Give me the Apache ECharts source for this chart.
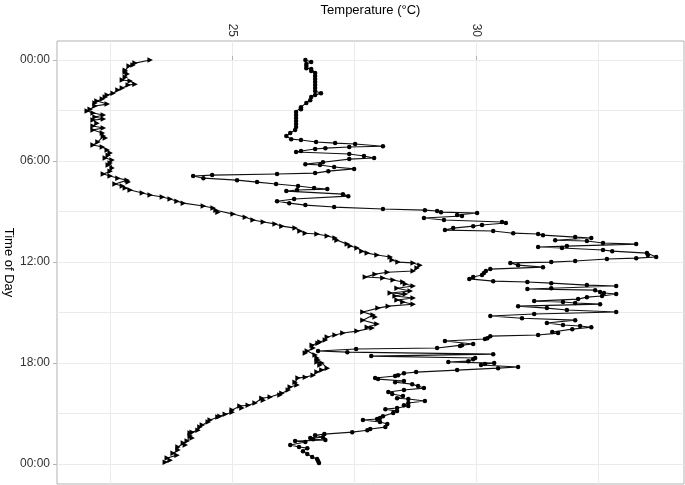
<!DOCTYPE html>
<html>
<head>
<meta charset="utf-8">
<script src="https://cdn.jsdelivr.net/npm/echarts@6/dist/echarts.min.js"></script>
<style>html,body{margin:0;padding:0;background:#fff}#c{width:685px;height:485px}</style>
</head>
<body>
<div id="c"></div>
<script>
// Series with triangle markers: minutes since midnight and temperature (°C)
var triMinutes = [0,11,18,21,36,43,50,61,71,75,86,89,100,107,118,125,132,139,146,153,157,164,175,182,189,196,203,210,214,225,235,242,249,260,271,278,292,303,310,321,331,339,349,356,367,374,385,396,406,413,421,428,435,442,449,456,463,474,481,488,495,503,510,520,527,535,542,549,560,570,577,584,592,599,609,617,620,627,634,642,656,663,670,681,688,695,702,713,720,723,731,741,752,756,763,773,777,784,791,798,805,813,823,830,834,841,848,855,862,870,877,884,898,909,916,927,941,952,955,966,973,980,987,998,1005,1009,1016,1026,1037,1044,1051,1062,1069,1076,1080,1087,1098,1105,1112,1123,1130,1133,1148,1158,1165,1176,1187,1194,1201,1205,1212,1222,1230,1233,1240,1247,1255,1262,1269,1272,1283,1290,1301,1308,1319,1326,1329,1340,1347,1358,1365,1372,1379,1390,1401,1408,1418,1426,1433];
var triTemps = [23.32,23.01,22.97,22.89,22.81,22.81,22.85,22.81,22.75,22.91,23.01,22.87,22.75,22.66,22.56,22.44,22.40,22.34,22.23,22.19,22.44,22.19,22.09,22.03,22.15,22.36,22.19,22.36,22.15,22.23,22.15,22.36,22.15,22.34,22.36,22.40,22.25,22.15,22.34,22.44,22.50,22.46,22.40,22.54,22.50,22.46,22.54,22.50,22.36,22.50,22.66,22.85,22.87,22.60,22.75,22.81,22.91,23.16,23.32,23.57,23.73,23.87,24.00,24.41,24.61,24.67,24.71,25.02,25.27,25.43,25.64,25.88,26.02,26.29,26.39,26.50,26.74,26.95,27.11,27.15,27.36,27.42,27.56,27.66,27.77,27.97,28.24,28.28,28.40,28.71,28.85,28.79,28.71,28.18,27.93,27.73,28.09,28.30,28.50,28.55,28.71,28.38,28.65,28.24,28.55,28.34,28.71,28.38,28.50,28.71,28.20,27.99,27.68,27.89,27.93,27.68,27.97,27.77,27.87,27.56,27.27,27.11,26.95,26.91,26.80,26.76,26.64,26.66,26.54,26.50,26.70,26.74,26.76,26.74,26.84,26.80,26.95,26.84,26.74,26.66,26.50,26.35,26.29,26.33,26.19,26.15,26.02,25.98,25.78,25.61,25.64,25.47,25.33,25.16,25.20,25.00,25.00,24.86,24.75,24.71,24.55,24.51,24.39,24.34,24.30,24.18,24.14,24.14,24.18,24.08,24.00,24.04,23.89,23.89,23.79,23.87,23.67,23.73,23.63];

// Series with dot markers
var dotMinutes = [0,7,14,21,29,32,39,46,57,68,78,89,100,110,118,125,132,143,153,168,175,185,196,207,217,228,239,249,260,271,282,285,292,296,299,307,310,314,317,324,328,335,342,349,353,364,371,374,381,388,396,403,406,410,413,421,428,435,442,449,456,460,463,467,478,485,495,503,510,517,524,531,535,538,542,545,552,556,563,570,577,581,588,592,599,606,609,617,620,624,631,634,642,645,652,656,663,666,670,677,681,688,695,702,706,709,716,720,723,731,738,745,752,759,766,773,780,788,791,795,802,805,813,816,820,827,830,834,841,845,852,859,862,866,870,877,884,891,898,905,912,920,927,937,944,948,952,959,969,973,980,984,991,994,1001,1012,1016,1019,1026,1030,1037,1041,1048,1055,1062,1066,1073,1076,1080,1083,1087,1094,1098,1105,1112,1116,1123,1126,1133,1137,1144,1148,1155,1162,1169,1176,1183,1190,1197,1205,1208,1215,1222,1230,1233,1240,1244,1251,1258,1269,1276,1279,1283,1290,1297,1308,1315,1319,1326,1333,1337,1344,1347,1351,1354,1358,1361,1372,1379,1383,1394,1404,1415,1422,1429,1436];
var dotTemps = [26.50,26.62,26.52,26.52,26.52,26.62,26.62,26.70,26.70,26.70,26.70,26.70,26.70,26.70,26.82,26.70,26.62,26.60,26.52,26.41,26.41,26.31,26.31,26.31,26.31,26.31,26.31,26.29,26.19,26.11,26.21,26.41,26.72,27.11,27.52,28.09,27.40,26.91,26.70,26.41,26.31,27.40,27.70,27.91,27.40,26.86,26.50,26.80,27.09,27.50,26.97,26.70,25.92,24.59,24.20,24.41,25.10,25.51,25.90,26.35,26.68,26.95,26.33,26.11,27.27,27.38,26.27,25.92,26.17,26.50,27.09,28.09,28.95,29.20,29.28,30.02,29.61,29.71,28.93,29.34,30.53,30.61,30.12,29.94,29.53,29.36,30.35,30.76,31.27,31.37,32.03,32.36,31.62,32.27,32.60,33.28,31.86,31.27,31.76,32.60,32.79,33.50,33.52,33.69,33.28,32.68,32.03,31.54,30.70,30.86,31.37,30.29,30.20,30.16,30.12,29.94,29.86,30.35,31.05,31.54,32.27,32.87,31.54,31.05,32.44,32.54,32.62,32.87,32.58,32.27,32.09,31.19,31.78,32.03,32.54,30.86,31.45,31.86,32.87,31.19,30.29,30.94,32.03,31.45,31.78,32.13,32.36,31.97,31.56,31.68,31.27,30.29,30.23,30.18,29.36,29.94,29.71,29.67,29.20,27.54,26.76,27.36,30.35,27.85,29.98,29.94,29.84,29.43,30.37,30.18,30.10,30.86,30.45,29.61,28.77,28.52,28.40,28.34,27.93,27.99,28.52,28.34,28.69,28.81,28.93,28.52,28.20,28.28,28.50,28.38,28.61,28.95,28.61,28.52,28.61,28.38,28.14,28.38,28.30,28.09,28.03,27.97,27.68,28.03,28.18,28.14,27.83,27.77,27.46,26.89,26.70,26.86,26.60,26.66,26.91,26.29,26.50,26.19,26.37,26.54,26.45,26.54,26.64,26.74,26.76,26.78];

// Axis ticks and grid positions
var xTickValues = [25, 30];
var xMinorValues = [22.5, 27.5, 32.5];
var yTickValues = [0, 6, 12, 18, 24];
var yTickLabels = ['00:00', '06:00', '12:00', '18:00', '00:00'];
var yMinorValues = [3, 9, 15, 21];
var xRange = [21.41, 34.26];
var yRange = [-1.13, 25.18];

function pairs(mins, temps) {
  var out = [];
  for (var i = 0; i < mins.length; i++) out.push([temps[i], mins[i] / 60]);
  return out;
}

var gridLines = [];
xTickValues.concat(xMinorValues).forEach(function (v) { gridLines.push({ xAxis: v }); });
yTickValues.concat(yMinorValues).forEach(function (v) { gridLines.push({ yAxis: v }); });

var FONT = 'Liberation Sans';
var chart = echarts.init(document.getElementById('c'), null, { renderer: 'canvas' });
chart.setOption({
  animation: false,
  backgroundColor: '#ffffff',
  textStyle: { fontFamily: FONT },
  grid: { left: 57, right: 1, top: 41, bottom: 1, containLabel: false, outerBoundsMode: 'none',
    show: true, borderColor: '#b3b3b3', borderWidth: 1, backgroundColor: 'transparent' },
  xAxis: {
    type: 'value', position: 'top', min: xRange[0], max: xRange[1],
    name: 'Temperature (°C)', nameLocation: 'middle', nameGap: 24, nameMoveOverlap: false,
    nameTextStyle: { color: '#000', fontSize: 13, fontFamily: FONT },
    axisLine: { show: false },
    axisTick: { show: true, length: 4, lineStyle: { color: '#b3b3b3' }, customValues: xTickValues },
    axisLabel: { show: true, rotate: -90, margin: 4, color: '#333', fontSize: 12, fontFamily: FONT, customValues: xTickValues,
      formatter: function (v) { return String(Math.round(v)); } },
    splitLine: { show: false }
  },
  yAxis: {
    type: 'value', inverse: true, min: yRange[0], max: yRange[1],
    name: 'Time of Day', nameLocation: 'middle', nameGap: 42, nameRotate: -90, nameMoveOverlap: false,
    nameTextStyle: { color: '#000', fontSize: 13, fontFamily: FONT },
    axisLine: { show: false },
    axisTick: { show: true, length: 4, lineStyle: { color: '#b3b3b3' }, customValues: yTickValues },
    axisLabel: { show: true, margin: 7, color: '#333', fontSize: 12, fontFamily: FONT, customValues: yTickValues,
      formatter: function (v) { var i = yTickValues.indexOf(Math.round(v)); return i >= 0 ? yTickLabels[i] : ''; } },
    splitLine: { show: false }
  },
  series: [
    {
      type: 'line', data: [], z: 0, silent: true,
      markLine: { silent: true, symbol: 'none', z: 0, label: { show: false },
        lineStyle: { color: '#ebebeb', width: 1, type: 'solid' }, emphasis: { disabled: true }, data: gridLines }
    },
    {
      name: 'triangles', type: 'line', z: 3, data: pairs(triMinutes, triTemps),
      symbol: 'triangle', symbolSize: 5.5, symbolRotate: -90, showAllSymbol: true,
      lineStyle: { color: '#111', width: 1.1 }, itemStyle: { color: '#000' }
    },
    {
      name: 'dots', type: 'line', z: 3, data: pairs(dotMinutes, dotTemps),
      symbol: 'circle', symbolSize: 4.5, showAllSymbol: true,
      lineStyle: { color: '#111', width: 1.1 }, itemStyle: { color: '#000' }
    }
  ]
});
</script>
</body>
</html>
